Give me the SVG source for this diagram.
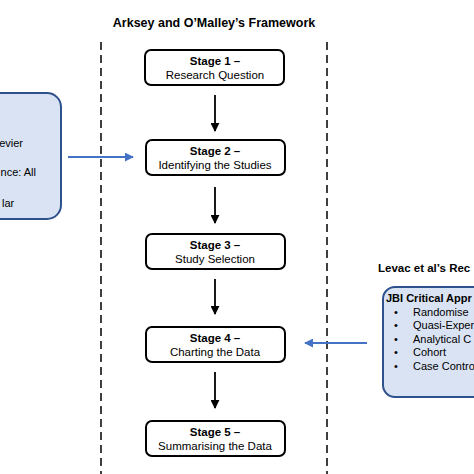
<svg xmlns="http://www.w3.org/2000/svg" width="474" height="474" viewBox="0 0 474 474">
<defs>
<style>
.t{font-family:"Liberation Sans",Arial,sans-serif;font-size:11.5px;fill:#000}
.s{font-family:"Liberation Sans",Arial,sans-serif;font-size:11px;fill:#000}
.b{font-weight:bold}
.h{font-family:"Liberation Sans",Arial,sans-serif;font-size:12.5px;font-weight:bold;fill:#000}
.stage{fill:#fff;stroke:#000;stroke-width:2}
.blue{fill:#dae3f3;stroke:#2f528f;stroke-width:2}
.dash{stroke:#000;stroke-width:1.5;stroke-dasharray:8 5;fill:none}
.ar{stroke:#000;stroke-width:1.8;fill:none}
.ab{stroke:#4472c4;stroke-width:1.8;fill:none}
</style>
<marker id="mk" viewBox="0 0 10 10" refX="9" refY="5" markerWidth="5" markerHeight="5" orient="auto"><path d="M0,0L10,5L0,10z" fill="#000"/></marker>
<marker id="mb" viewBox="0 0 10 10" refX="9" refY="5" markerWidth="5" markerHeight="5" orient="auto"><path d="M0,0L10,5L0,10z" fill="#4472c4"/></marker>
</defs>
<rect width="474" height="474" fill="#fff"/>
<text class="h" x="214" y="27" text-anchor="middle">Arksey and O’Malley’s Framework</text>
<text class="h" x="378" y="272" style="font-size:11.5px">Levac et al’s Rec</text>
<g id="dividers">
<line class="dash" x1="101" y1="42" x2="101" y2="474"/>
<line class="dash" x1="327" y1="42" x2="327" y2="474"/>
</g>
<g id="left-box">
<rect class="blue" x="-30" y="93" width="91" height="126" rx="14"/>
<text class="s" x="23" y="147" text-anchor="end">evier</text>
<text class="s" x="36" y="176" text-anchor="end">nce: All</text>
<text class="s" x="2" y="207">lar</text>
</g>
<g id="right-box">
<rect class="blue" x="383" y="287" width="120" height="110" rx="12"/>
<text class="s b" x="386" y="302">JBI Critical Appr</text>
<text class="s" x="394" y="316">•</text><text class="s" x="413" y="316">Randomise</text>
<text class="s" x="394" y="329">•</text><text class="s" x="413" y="329">Quasi-Exper</text>
<text class="s" x="394" y="343">•</text><text class="s" x="413" y="343">Analytical C</text>
<text class="s" x="394" y="356">•</text><text class="s" x="413" y="356">Cohort</text>
<text class="s" x="394" y="370">•</text><text class="s" x="413" y="370">Case Contro</text>
</g>
<g id="stage1"><rect class="stage" x="145" y="50" width="139" height="35" rx="6"/>
<text class="t b" x="215" y="65" text-anchor="middle">Stage 1 –</text>
<text class="t" x="215" y="79" text-anchor="middle">Research Question</text></g>
<g id="stage2"><rect class="stage" x="146" y="140" width="139" height="35" rx="6"/>
<text class="t b" x="215" y="155" text-anchor="middle">Stage 2 –</text>
<text class="t" x="215" y="169" text-anchor="middle">Identifying the Studies</text></g>
<g id="stage3"><rect class="stage" x="146" y="234" width="139" height="35" rx="6"/>
<text class="t b" x="215" y="249" text-anchor="middle">Stage 3 –</text>
<text class="t" x="215" y="263" text-anchor="middle">Study Selection</text></g>
<g id="stage4"><rect class="stage" x="146" y="327" width="139" height="35" rx="6"/>
<text class="t b" x="215" y="342" text-anchor="middle">Stage 4 –</text>
<text class="t" x="215" y="356" text-anchor="middle">Charting the Data</text></g>
<g id="stage5"><rect class="stage" x="146" y="421" width="139" height="35" rx="6"/>
<text class="t b" x="215" y="436" text-anchor="middle">Stage 5 –</text>
<text class="t" x="215" y="450" text-anchor="middle">Summarising the Data</text></g>
<g id="connectors">
<line class="ar" x1="215" y1="95" x2="215" y2="131" marker-end="url(#mk)"/>
<line class="ar" x1="215" y1="187" x2="215" y2="223" marker-end="url(#mk)"/>
<line class="ar" x1="215" y1="279" x2="215" y2="314" marker-end="url(#mk)"/>
<line class="ar" x1="215" y1="372" x2="215" y2="408" marker-end="url(#mk)"/>
<line class="ab" x1="68" y1="157" x2="133" y2="157" marker-end="url(#mb)"/>
<line class="ab" x1="367" y1="343" x2="305" y2="343" marker-end="url(#mb)"/>
</g>
</svg>
